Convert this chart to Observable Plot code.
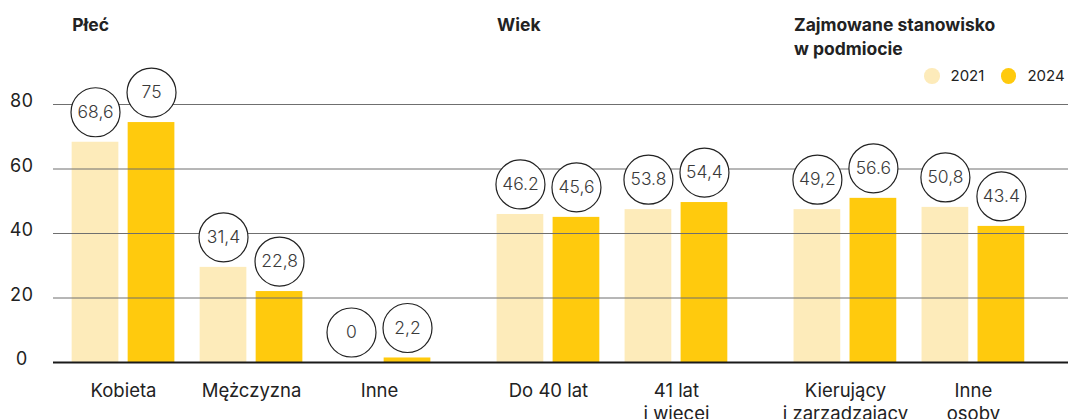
<!DOCTYPE html>
<html><head><meta charset="utf-8">
<script src="https://cdn.jsdelivr.net/npm/d3@7"></script>
<script src="https://cdn.jsdelivr.net/npm/@observablehq/plot@0.6"></script>
<style>
body{margin:0;background:#fff;font-family:Inter,sans-serif;}
#wrap{position:relative;width:1068px;height:419px;overflow:hidden;}
#legend{position:absolute;left:924px;top:68px;display:flex;align-items:center;font-size:15px;color:#222;font-family:Inter,sans-serif;}
#legend .item{display:flex;align-items:center;margin-right:16.5px;}
#legend .sw{display:inline-block;width:15.5px;height:15.5px;border-radius:50%;}
#legend .lb{margin-left:11px;line-height:16px;}
</style></head><body><div id="wrap"></div>
<script>
const categories = ["Kobieta","Mężczyzna","Inne","Do 40 lat","41 lat\ni więcej","Kierujący\ni zarządzający","Inne\nosoby"];
const sectionOf = [0,0,0,1,1,2,2];
const sections = ["Płeć","Wiek","Zajmowane stanowisko\nw podmiocie"];
const years = ["2021","2024"];
const values2021 = [68.3, 29.5, 0, 45.9, 47.4, 47.4, 48.1];
const values2024 = [74.4, 22.0, 1.4, 45.0, 49.6, 50.9, 42.2];
const labels2021 = ["68,6","31,4","0","46.2","53.8","49,2","50,8"];
const labels2024 = ["75","22,8","2,2","45,6","54,4","56.6","43.4"];
const yTicks = [0,20,40,60,80];
const colors = ["#FDEBBA","#FFCA0D"];

// layout (not data)
const SECTION_GAP = 0.32, BAR = 0.365, HALF_GAP = 0.0363;
const pos = categories.map((c,i) => i + SECTION_GAP*sectionOf[i]);
const bars = [];
categories.forEach((c,i) => {
  [values2021, values2024].forEach((vals, j) => {
    const x1 = j === 0 ? pos[i]-HALF_GAP-BAR : pos[i]+HALF_GAP;
    const x2 = x1 + BAR;
    bars.push({cat:c, year:years[j], value:vals[i], label:(j===0?labels2021:labels2024)[i], x1, x2, xc:(x1+x2)/2});
  });
});
const sectionX = sections.map((s,k) => pos[sectionOf.indexOf(k)] - HALF_GAP - BAR);

const chart = Plot.plot({
  width:1068, height:419,
  marginLeft:53, marginRight:0, marginTop:104, marginBottom:57,
  x:{domain:[-0.547, 7.383], axis:null},
  y:{domain:[0,80], axis:null},
  color:{domain:years, range:colors},
  style:{fontFamily:"Inter, sans-serif", color:"#222", background:"#fff", overflow:"visible"},
  marks:[
    Plot.rectY(bars, {x1:"x1", x2:"x2", y1:0, y2:"value", fill:"year"}),
    Plot.ruleY([20,40,60,80], {stroke:"#6f6f6f", strokeWidth:1}),
    Plot.ruleY([0], {stroke:"#1a1a1a", strokeWidth:2}),
    Plot.axisY({ticks:yTicks, label:null, tickSize:0, tickPadding:32, textAnchor:"middle", fontSize:18, dy:-3, fill:"#222"}),
    Plot.dot(bars, {x:"xc", y:"value", dy:-30, r:24.5, fill:"white", stroke:"#222", strokeWidth:1.2}),
    Plot.text(bars, {x:"xc", y:"value", dy:-30, text:"label", fontSize:17.5, fontWeight:300, fill:"#3a3a3a"}),
    Plot.text(categories, {x:(d,i)=>pos[i], text:d=>d, frameAnchor:"bottom", lineAnchor:"top", dy:18.5, fontSize:18.5, lineHeight:1.23, fill:"#222"}),
    Plot.text(sections, {x:(d,i)=>sectionX[i], text:d=>d, frameAnchor:"top", lineAnchor:"top", textAnchor:"start", dy:-89.5, fontSize:17.5, fontWeight:700, lineHeight:1.32, fill:"#222"})
  ]
});
const wrap = document.getElementById("wrap");
wrap.appendChild(chart);

const legend = d3.select("#wrap").append("div").attr("id","legend");
years.forEach((y,i) => {
  const item = legend.append("div").attr("class","item");
  item.append("span").attr("class","sw").style("background", colors[i]);
  item.append("span").attr("class","lb").text(y);
});
</script></body></html>
